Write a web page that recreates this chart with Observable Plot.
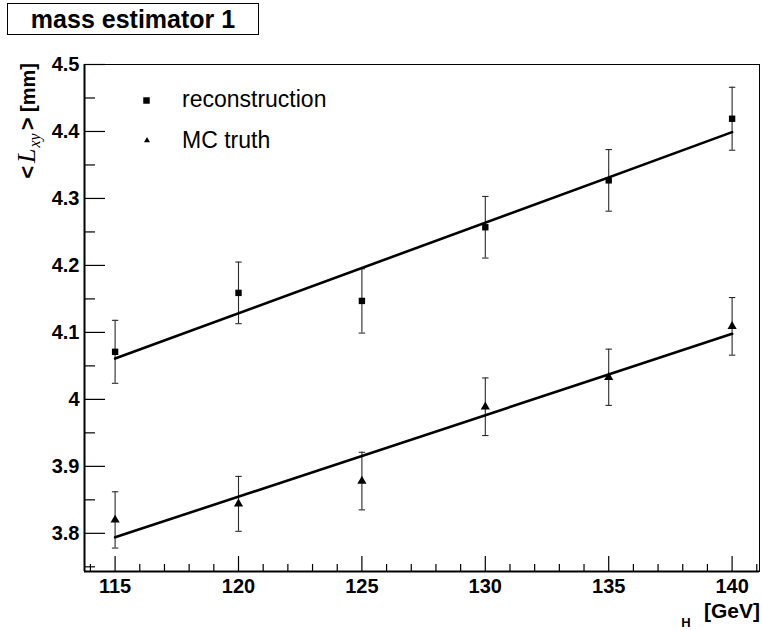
<!DOCTYPE html>
<html><head><meta charset="utf-8">
<script src="https://cdn.jsdelivr.net/npm/d3@7"></script>
<script src="https://cdn.jsdelivr.net/npm/@observablehq/plot@0.6"></script>
<style>body{margin:0;background:#fff}#chart{width:762px;height:630px}</style>
</head><body><div id="chart"></div>
<script>
// ---- data ----
const mass = [115, 120, 125, 130, 135, 140];
const reco = [4.071, 4.159, 4.147, 4.257, 4.327, 4.419];
const recoErr = [0.047, 0.046, 0.048, 0.046, 0.046, 0.047];
const truth = [3.820, 3.844, 3.878, 3.989, 4.033, 4.109];
const truthErr = [0.042, 0.041, 0.043, 0.043, 0.042, 0.043];
const fitMass = [115, 140];
const fitReco = [4.061, 4.399];
const fitTruth = [3.794, 4.098];
const xMajor = [115, 120, 125, 130, 135, 140];
const xMinor = [114, 116, 117, 118, 119, 121, 122, 123, 124, 126, 127, 128, 129, 131, 132, 133, 134, 136, 137, 138, 139, 141];
const yMajor = [3.8, 3.9, 4.0, 4.1, 4.2, 4.3, 4.4, 4.5];
const yMinor = [3.75, 3.85, 3.95, 4.05, 4.15, 4.25, 4.35, 4.45];
const yLabels = ["3.8", "3.9", "4", "4.1", "4.2", "4.3", "4.4", "4.5"];
const xDomain = [113.76, 141.11];
const yDomain = [3.743, 4.5];
const legendNames = ["reconstruction", "MC truth"];
const titleText = "mass estimator 1";

// ---- layout ----
const W = 762, H = 630, mL = 84, mR = 3, mT = 64, mB = 59;
const frameW = W - mL - mR, frameH = H - mT - mB;

const recoRows = mass.map((m, i) => ({m, v: reco[i], lo: reco[i] - recoErr[i], hi: reco[i] + recoErr[i]}));
const truthRows = mass.map((m, i) => ({m, v: truth[i], lo: truth[i] - truthErr[i], hi: truth[i] + truthErr[i]}));
const fitRecoRows = fitMass.map((m, i) => ({m, v: fitReco[i]}));
const fitTruthRows = fitMass.map((m, i) => ({m, v: fitTruth[i]}));
const allRows = recoRows.concat(truthRows);

const cap = {draw(ctx, size) { const r = Math.sqrt(size / Math.PI); ctx.moveTo(-r, 0); ctx.lineTo(r, 0); }};
const bold = {fontSize: 20, fontWeight: "bold", fill: "black"};

const plot = Plot.plot({
  width: W, height: H,
  marginLeft: mL, marginRight: mR, marginTop: mT, marginBottom: mB,
  x: {domain: xDomain},
  y: {domain: yDomain},
  style: {fontFamily: "'Liberation Sans', Arial, Helvetica, sans-serif", color: "black", background: "white"},
  marks: [
    Plot.frame({stroke: "black", strokeWidth: 1}),
    Plot.ruleX([xDomain[0]], {stroke: "black", strokeWidth: 2}),
    Plot.ruleY([yDomain[0]], {stroke: "black", strokeWidth: 2}),
    // inward ticks
    Plot.tickY(yMajor, {y: d => d, insetRight: frameW - 21, stroke: "black", strokeWidth: 1.2}),
    Plot.tickY(yMinor, {y: d => d, insetRight: frameW - 11, stroke: "black", strokeWidth: 1.2}),
    Plot.tickX(xMajor, {x: d => d, insetTop: frameH - 15, stroke: "black", strokeWidth: 1.2}),
    Plot.tickX(xMinor, {x: d => d, insetTop: frameH - 7, stroke: "black", strokeWidth: 1.2}),
    // tick labels
    Plot.axisY(yMajor, {anchor: "left", tickSize: 0, tickPadding: 5, tickFormat: d => yLabels[yMajor.indexOf(d)], ...bold, label: null}),
    Plot.axisX(xMajor, {anchor: "bottom", tickSize: 0, tickPadding: 7, tickFormat: d => String(d), ...bold, label: null}),
    // error bars
    Plot.ruleX(allRows, {x: "m", y1: "lo", y2: "hi", stroke: "#2a2a2a", strokeWidth: 1.1}),
    Plot.dot(allRows, {x: "m", y: "lo", symbol: cap, r: 3.2, stroke: "#2a2a2a", fill: "none", strokeWidth: 1.1}),
    Plot.dot(allRows, {x: "m", y: "hi", symbol: cap, r: 3.2, stroke: "#2a2a2a", fill: "none", strokeWidth: 1.1}),
    // fits
    Plot.line(fitRecoRows, {x: "m", y: "v", stroke: "black", strokeWidth: 2.6}),
    Plot.line(fitTruthRows, {x: "m", y: "v", stroke: "black", strokeWidth: 2.6}),
    // markers
    Plot.dot(recoRows, {x: "m", y: "v", symbol: "square", r: 3.6, fill: "black", stroke: "none"}),
    Plot.dot(truthRows, {x: "m", y: "v", symbol: "triangle", r: 3.4, fill: "black", stroke: "none"})
  ]
});

document.getElementById("chart").appendChild(plot);
const svg = d3.select(plot);
const sans = "'Liberation Sans', Arial, Helvetica, sans-serif";
const serif = "'Liberation Serif', 'Times New Roman', serif";

// title box
svg.append("rect").attr("x", 7.5).attr("y", 3.5).attr("width", 251).attr("height", 31)
  .attr("fill", "white").attr("stroke", "black").attr("stroke-width", 1);
svg.append("text").attr("x", 133).attr("y", 28).attr("text-anchor", "middle")
  .attr("font-family", sans).attr("font-size", 25).attr("font-weight", "bold").attr("fill", "black").text(titleText);

// legend
svg.append("path").attr("d", d3.symbol(d3.symbolSquare, 42)()).attr("transform", "translate(146.5,100.5)").attr("fill", "black");
svg.append("path").attr("d", d3.symbol(d3.symbolTriangle, 16)()).attr("transform", "translate(147,140.5)").attr("fill", "black");
svg.append("text").attr("x", 182).attr("y", 107).attr("text-anchor", "start").attr("font-family", sans).attr("font-size", 23).attr("fill", "black").text(legendNames[0]);
svg.append("text").attr("x", 182).attr("y", 148).attr("text-anchor", "start").attr("font-family", sans).attr("font-size", 23).attr("fill", "black").text(legendNames[1]);

// y axis title
const yt = svg.append("text").attr("transform", "translate(35,63) rotate(-90)").attr("text-anchor", "end")
  .attr("font-family", sans).attr("font-size", 20).attr("font-weight", "bold").attr("fill", "black");
yt.append("tspan").attr("font-size", 22).text("<");
yt.append("tspan").attr("dx", 3).attr("font-family", serif).attr("font-style", "italic").attr("font-weight", "normal").attr("font-size", 26).text("L");
yt.append("tspan").attr("dx", 1).attr("font-family", serif).attr("font-style", "italic").attr("font-weight", "normal").attr("font-size", 16).attr("dy", 5).text("xy");
yt.append("tspan").attr("dx", 3).attr("dy", -5).attr("font-size", 22).text(">");
yt.append("tspan").text(" [mm]");

// x axis title
svg.append("text").attr("x", 760).attr("y", 618).attr("text-anchor", "end")
  .attr("font-family", sans).attr("font-size", 21).attr("font-weight", "bold").attr("fill", "black").text("[GeV]");
svg.append("text").attr("x", 686).attr("y", 627).attr("text-anchor", "middle")
  .attr("font-family", sans).attr("font-size", 13).attr("font-weight", "bold").attr("fill", "black").text("H");
</script>
</body></html>
